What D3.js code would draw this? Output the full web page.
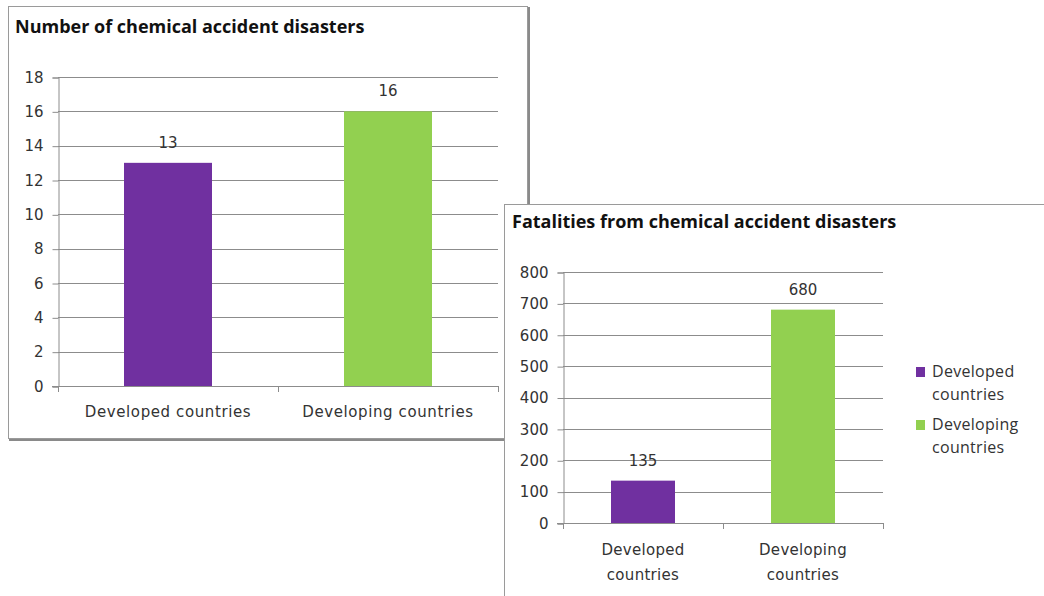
<!DOCTYPE html>
<html>
<head>
<meta charset="utf-8">
<script src="https://cdn.jsdelivr.net/npm/d3@7"></script>
<style>
  body { margin: 0; background: #fff; }
  text { font-family: "DejaVu Sans", sans-serif; }
  .title { font-family: "Open Sans", sans-serif; font-weight: bold; }
</style>
</head>
<body>
<div id="chart"></div>
<script>
var categories = ["Developed countries", "Developing countries"];
var counts = [13, 16];
var fatalities = [135, 680];
var colors = ["#7030a0", "#92d050"];
var countTicks = [0, 2, 4, 6, 8, 10, 12, 14, 16, 18];
var fatalTicks = [0, 100, 200, 300, 400, 500, 600, 700, 800];

var svg = d3.select("#chart").append("svg")
    .attr("width", 1044)
    .attr("height", 596);

function frame(x0, y0, x1, y1) {
  // shadow then box
  svg.append("rect")
    .attr("x", x0 + 1).attr("y", y0 + 1)
    .attr("width", x1 - x0).attr("height", y1 - y0)
    .attr("fill", "#8a8a8a");
  svg.append("rect")
    .attr("x", x0 + 0.5).attr("y", y0 + 0.5)
    .attr("width", x1 - x0 - 2).attr("height", y1 - y0 - 2)
    .attr("fill", "#fff")
    .attr("stroke", "#9a9a9a")
    .attr("stroke-width", 1);
}

function barChart(opt) {
  var g = svg.append("g");
  var x = d3.scaleBand()
      .domain(categories)
      .range([opt.left, opt.right])
      .paddingInner(0.6).paddingOuter(0.3);
  var y = d3.scaleLinear()
      .domain([0, opt.max])
      .range([opt.bottom, opt.top]);

  g.append("text")
    .attr("class", "title")
    .attr("x", opt.titleX).attr("y", opt.titleY)
    .attr("font-size", 18)
    .attr("fill", "#111")
    .text(opt.title);

  // gridlines
  g.selectAll(".grid").data(opt.ticks.slice(1)).enter()
    .append("line")
    .attr("x1", opt.left).attr("x2", opt.right)
    .attr("y1", function(d) { return Math.round(y(d)) + 0.5; })
    .attr("y2", function(d) { return Math.round(y(d)) + 0.5; })
    .attr("stroke", "#8c8c8c");

  var yAxis = d3.axisLeft(y).tickValues(opt.ticks).tickSize(6).tickPadding(9);
  var ya = g.append("g")
    .attr("transform", "translate(" + (opt.left + 0.5) + ",0.5)")
    .call(yAxis);
  ya.select(".domain").attr("stroke", "#8c8c8c");
  ya.selectAll(".tick line").attr("stroke", "#8c8c8c");
  ya.selectAll(".tick text")
    .attr("font-size", 15).attr("fill", "#333")
    .style("font-family", "DejaVu Sans");

  // bars
  g.selectAll(".bar").data(opt.values).enter()
    .append("rect")
    .attr("x", function(d, i) { return x(categories[i]); })
    .attr("y", function(d) { return y(d); })
    .attr("width", x.bandwidth())
    .attr("height", function(d) { return y(0) - y(d); })
    .attr("fill", function(d, i) { return colors[i]; });

  // value labels
  g.selectAll(".val").data(opt.values).enter()
    .append("text")
    .attr("x", function(d, i) { return x(categories[i]) + x.bandwidth() / 2; })
    .attr("y", function(d) { return y(d) - 15; })
    .attr("text-anchor", "middle")
    .attr("font-size", 15).attr("fill", "#333")
    .text(function(d) { return d; });

  // x axis with ticks between categories
  var edges = [opt.left, (opt.left + opt.right) / 2, opt.right];
  g.append("line")
    .attr("x1", opt.left - 6).attr("x2", opt.right)
    .attr("y1", y(0) + 0.5).attr("y2", y(0) + 0.5)
    .attr("stroke", "#8c8c8c");
  g.selectAll(".xt").data(edges).enter()
    .append("line")
    .attr("x1", function(d) { return Math.round(d) + 0.5; })
    .attr("x2", function(d) { return Math.round(d) + 0.5; })
    .attr("y1", y(0)).attr("y2", y(0) + 6)
    .attr("stroke", "#8c8c8c");

  g.selectAll(".xl").data(categories).enter()
    .append("text")
    .attr("x", function(d) { return x(d) + x.bandwidth() / 2; })
    .attr("y", y(0) + opt.labelOffset)
    .attr("text-anchor", "middle")
    .attr("font-size", 15).attr("fill", "#333")
    .attr("letter-spacing", opt.wrap ? 0.3 : 0.6)
    .each(function(d) {
      var lines = opt.wrap ? d.split(" ") : [d];
      var t = d3.select(this);
      lines.forEach(function(l, i) {
        t.append("tspan")
          .attr("x", x(d) + x.bandwidth() / 2)
          .attr("dy", i === 0 ? 0 : 25)
          .text(l);
      });
    });
  return g;
}

frame(8, 6, 529, 440);
barChart({
  title: "Number of chemical accident disasters",
  titleX: 15, titleY: 33,
  left: 58, right: 498, top: 77, bottom: 386,
  max: 18, ticks: countTicks, values: counts,
  labelOffset: 31, wrap: false
});

frame(504, 204, 1050, 602);
barChart({
  title: "Fatalities from chemical accident disasters",
  titleX: 512, titleY: 228,
  left: 563, right: 883, top: 272, bottom: 523,
  max: 800, ticks: fatalTicks, values: fatalities,
  labelOffset: 32, wrap: true
});

// legend
var legend = svg.append("g").attr("transform", "translate(916,367)");
categories.forEach(function(c, i) {
  var row = legend.append("g").attr("transform", "translate(0," + (i * 53) + ")");
  row.append("rect")
    .attr("width", 9).attr("height", 10)
    .attr("fill", colors[i]);
  var words = c.split(" ");
  row.append("text")
    .attr("x", 16).attr("y", 10)
    .attr("font-size", 16).attr("fill", "#333")
    .attr("letter-spacing", 0.3)
    .style("font-family", "'Open Sans', sans-serif")
    .text(words[0]);
  row.append("text")
    .attr("x", 16).attr("y", 33)
    .attr("font-size", 16).attr("fill", "#333")
    .attr("letter-spacing", 0.3)
    .style("font-family", "'Open Sans', sans-serif")
    .text(words[1]);
});
</script>
</body>
</html>
